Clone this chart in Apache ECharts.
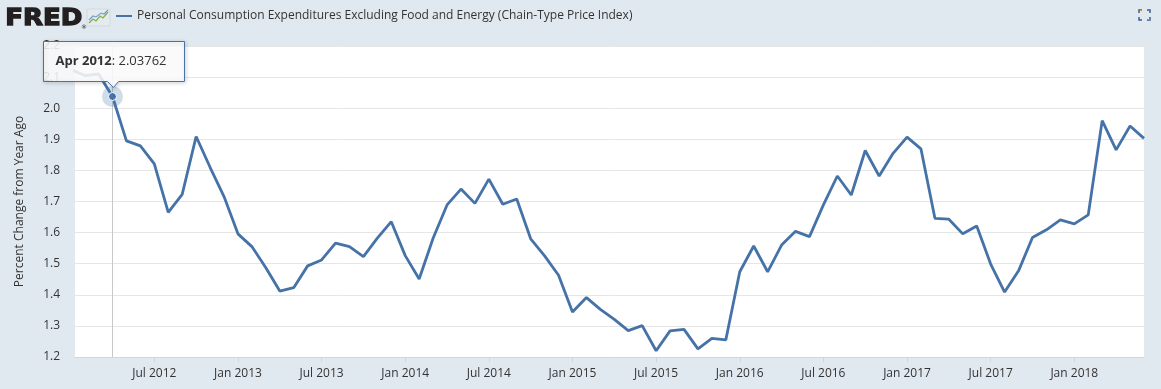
<!DOCTYPE html>
<html><head><meta charset="utf-8">
<script src="https://cdn.jsdelivr.net/npm/echarts@6/dist/echarts.min.js"></script>
<style>html,body{margin:0;padding:0;background:#e1e9f0}#c{width:1161px;height:389px}</style>
</head><body><div id="c"></div>
<script>
const seriesName = 'Personal Consumption Expenditures Excluding Food and Energy (Chain-Type Price Index)';
const yAxisName = 'Percent Change from Year Ago';
const months = [
 '2012-01','2012-02','2012-03','2012-04','2012-05','2012-06','2012-07','2012-08','2012-09','2012-10','2012-11','2012-12',
 '2013-01','2013-02','2013-03','2013-04','2013-05','2013-06','2013-07','2013-08','2013-09','2013-10','2013-11','2013-12',
 '2014-01','2014-02','2014-03','2014-04','2014-05','2014-06','2014-07','2014-08','2014-09','2014-10','2014-11','2014-12',
 '2015-01','2015-02','2015-03','2015-04','2015-05','2015-06','2015-07','2015-08','2015-09','2015-10','2015-11','2015-12',
 '2016-01','2016-02','2016-03','2016-04','2016-05','2016-06','2016-07','2016-08','2016-09','2016-10','2016-11','2016-12',
 '2017-01','2017-02','2017-03','2017-04','2017-05','2017-06','2017-07','2017-08','2017-09','2017-10','2017-11','2017-12',
 '2018-01','2018-02','2018-03','2018-04','2018-05','2018-06'];
const values = [
 2.125,2.105,2.11,2.03762,1.895,1.879,1.821,1.665,1.723,1.909,1.81,1.716,
 1.596,1.555,1.487,1.412,1.423,1.493,1.512,1.566,1.555,1.523,1.582,1.635,
 1.526,1.451,1.582,1.689,1.740,1.694,1.772,1.691,1.708,1.580,1.525,1.463,
 1.345,1.391,1.353,1.321,1.285,1.301,1.220,1.284,1.289,1.226,1.260,1.255,
 1.474,1.557,1.474,1.560,1.604,1.587,1.689,1.782,1.721,1.864,1.782,1.855,
 1.907,1.869,1.646,1.643,1.596,1.621,1.499,1.409,1.477,1.584,1.609,1.641,
 1.628,1.657,1.960,1.866,1.943,1.903];
const xTickMonths = ['2012-07','2013-01','2013-07','2014-01','2014-07','2015-01','2015-07','2016-01','2016-07','2017-01','2017-07','2018-01'];
const xTickLabels = ['Jul 2012','Jan 2013','Jul 2013','Jan 2014','Jul 2014','Jan 2015','Jul 2015','Jan 2016','Jul 2016','Jan 2017','Jul 2017','Jan 2018'];
const hoverMonth = '2012-04';
const hoverLabel = 'Apr 2012';
const hoverValueText = '2.03762';

function idx(m){ const [y,mo] = m.split('-').map(Number); return (y-2012)*12 + mo - 1; }
const tickIdx = xTickMonths.map(idx);
const hi = months.indexOf(hoverMonth);
const hoverX = idx(hoverMonth), hoverY = values[hi];
const FONT = 'Open Sans';
const BLUE = '#4572a7';

const chart = echarts.init(document.getElementById('c'), null, {renderer:'canvas'});
chart.setOption({
  animation:false,
  backgroundColor:'#e1e9f0',
  textStyle:{fontFamily:FONT},
  legend:{
    left:116, top:10, padding:0, icon:'rect', itemWidth:16, itemHeight:2, itemGap:5,
    textStyle:{fontFamily:FONT, fontSize:12, color:'#333'},
    data:[seriesName], selectedMode:false
  },
  grid:{left:75, right:17, top:46, bottom:32, show:true, backgroundColor:'#ffffff', borderWidth:0},
  xAxis:{
    type:'value', min:0.31, max:77,
    axisLine:{show:true, lineStyle:{color:'#ccd6eb'}},
    axisTick:{show:true, length:5, lineStyle:{color:'#ccd6eb'}, customValues:tickIdx},
    axisLabel:{customValues:tickIdx, formatter:v=>xTickLabels[tickIdx.indexOf(v)], color:'#333', fontSize:12, margin:11, fontFamily:FONT},
    splitLine:{show:false}
  },
  yAxis:{
    type:'value', min:1.2, max:2.2, interval:0.1,
    axisLine:{show:false}, axisTick:{show:false},
    axisLabel:{formatter:v=>v.toFixed(1), color:'#333', fontSize:12, margin:15, fontFamily:FONT},
    splitLine:{lineStyle:{color:'#e6e6e6', width:1}},
    name:yAxisName, nameLocation:'middle', nameRotate:90, nameGap:49,
    nameTextStyle:{fontFamily:FONT, fontSize:12, color:'#333'}
  },
  series:[{
    name:seriesName, type:'line', showSymbol:false, clip:true,
    data:months.map((m,i)=>[idx(m), values[i]]),
    lineStyle:{color:BLUE, width:2.8}, itemStyle:{color:BLUE},
    markLine:{silent:true, symbol:'none', label:{show:false}, lineStyle:{color:'#c8c8c8', width:1, type:'solid'}, data:[{xAxis:hoverX}]},
    markPoint:{silent:true, label:{show:false}, data:[
      {coord:[hoverX,hoverY], symbol:'circle', symbolSize:21, itemStyle:{color:'rgba(69,114,167,0.25)'}},
      {coord:[hoverX,hoverY], symbol:'circle', symbolSize:8, itemStyle:{color:BLUE, borderColor:'#fff', borderWidth:1}}
    ]}
  }]
});

const p = chart.convertToPixel({gridIndex:0}, [hoverX, hoverY]);
const L = p[0]-69, R = p[0]+72, T = p[1]-55, B = p[1]-15, tipY = p[1]-9;
chart.setOption({graphic:[
  // FRED logo
  {type:'text', x:6, y:19.5, scaleX:1.13, originX:6, originY:19.5,
   style:{text:'FRED', font:'bold 23px "DejaVu Sans"', fill:'#231f20', stroke:'#231f20', lineWidth:1.3, verticalAlign:'middle'}},
  {type:'text', x:81, y:24, style:{text:'®', font:'6px "DejaVu Sans"', fill:'#222'}},
  {type:'rect', shape:{x:87, y:9, width:23, height:17, r:1}, style:{fill:'#e4eaee', stroke:'#d3dbe1'}},
  {type:'polyline', shape:{points:[[89,23],[93,19],[96,21],[100,16],[103,18],[108,12]]}, style:{stroke:'#7db446', lineWidth:1.3, fill:null}},
  {type:'polyline', shape:{points:[[89,20],[93,16],[96,17],[101,13],[104,14],[108,10]]}, style:{stroke:'#6f9fd0', lineWidth:1.1, fill:null}},
  // fullscreen icon
  {type:'polyline', shape:{points:[[1139,13],[1139,10],[1142,10]]}, style:{stroke:'#3b5f8a', lineWidth:1.5, fill:null}},
  {type:'polyline', shape:{points:[[1147,10],[1150,10],[1150,13]]}, style:{stroke:'#3b5f8a', lineWidth:1.5, fill:null}},
  {type:'polyline', shape:{points:[[1139,17],[1139,20],[1142,20]]}, style:{stroke:'#3b5f8a', lineWidth:1.5, fill:null}},
  {type:'polyline', shape:{points:[[1147,20],[1150,20],[1150,17]]}, style:{stroke:'#3b5f8a', lineWidth:1.5, fill:null}},
  {type:'line', shape:{x1:1140,y1:10.5,x2:1141.5,y2:10.5}, style:{stroke:'#e8a33d', lineWidth:1}},
  {type:'line', shape:{x1:1148,y1:19.5,x2:1149.5,y2:19.5}, style:{stroke:'#e8a33d', lineWidth:1}},
  // tooltip
  {type:'polygon', z:100, shape:{points:[[L,T],[R,T],[R,B],[p[0]+6,B],[p[0]+1,tipY],[p[0]-5,B],[L,B]]},
   style:{fill:'rgba(255,255,255,0.86)', stroke:BLUE, lineWidth:1, shadowBlur:4, shadowColor:'rgba(0,0,0,0.18)', shadowOffsetX:1, shadowOffsetY:1}},
  {type:'text', z:101, x:L+12, y:(T+B)/2, style:{
    text:'{b|'+hoverLabel+'}{n|: '+hoverValueText+'}', verticalAlign:'middle',
    rich:{b:{fontFamily:FONT, fontSize:13, fontWeight:'bold', fill:'#333', color:'#333'}, n:{fontFamily:FONT, fontSize:13, fill:'#333', color:'#333'}}
  }}
]});
</script></body></html>
